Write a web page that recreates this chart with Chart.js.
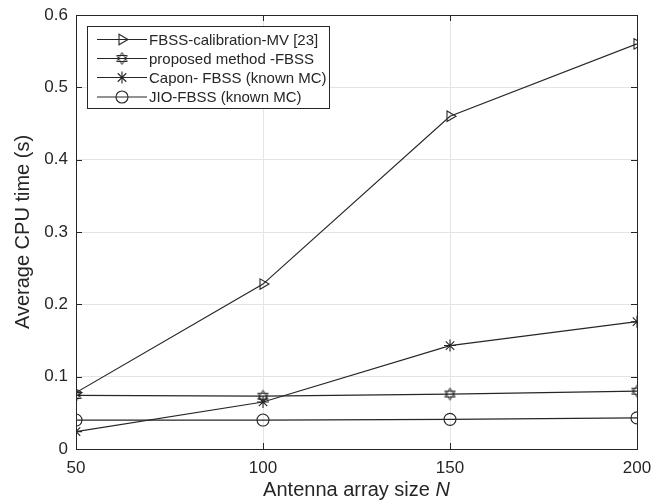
<!DOCTYPE html>
<html>
<head>
<meta charset="utf-8">
<script src="https://cdn.jsdelivr.net/npm/chart.js@4.4.1/dist/chart.umd.min.js"></script>
<style>
  html, body { margin: 0; padding: 0; background: #fff; }
  #wrap { width: 652px; height: 502px; }
</style>
</head>
<body>
<div id="wrap"><canvas id="cpu"></canvas></div>
<script>
// array sizes N
const sizes = [50, 100, 150, 200];
// average CPU time (s) per method
const fbssCalib = [0.078, 0.228, 0.460, 0.560];
const proposed = [0.074, 0.073, 0.076, 0.080];
const capon = [0.024, 0.065, 0.143, 0.176];
const jio = [0.040, 0.040, 0.041, 0.043];
const seriesNames = ['FBSS-calibration-MV [23]', 'proposed method -FBSS', 'Capon- FBSS (known MC)', 'JIO-FBSS (known MC)'];
const yTicks = [0, 0.1, 0.2, 0.3, 0.4, 0.5, 0.6];

const INK = '#262626';
const FONT = '"Liberation Sans", Arial, Helvetica, sans-serif';

// hexagram marker (two overlapping triangles), MATLAB 'h'
function makeHexagram(r) {
  const c = document.createElement('canvas');
  const s = Math.ceil(r * 2 + 3);
  c.width = s; c.height = s;
  const g = c.getContext('2d');
  g.strokeStyle = INK;
  g.lineWidth = 1;
  const cx = s / 2, cy = s / 2;
  [-90, 90].forEach(start => {
    g.beginPath();
    for (let k = 0; k < 3; k++) {
      const a = (start + k * 120) * Math.PI / 180;
      const px = cx + r * Math.cos(a), py = cy + r * Math.sin(a);
      if (k === 0) g.moveTo(px, py); else g.lineTo(px, py);
    }
    g.closePath();
    g.stroke();
  });
  return c;
}
const hexagram = makeHexagram(6);

const pts = arr => sizes.map((n, i) => ({ x: n, y: arr[i] }));

function ds(label, arr, style, radius, rotation) {
  return {
    label,
    data: pts(arr),
    borderColor: INK,
    borderWidth: 1.2,
    pointStyle: style,
    pointRadius: radius,
    pointRotation: rotation || 0,
    pointBorderColor: INK,
    pointBorderWidth: 1.1,
    pointBackgroundColor: 'rgba(0,0,0,0)',
    tension: 0
  };
}

// frame, inward ticks, legend and x title
const matlabAxes = {
  id: 'matlabAxes',
  afterDraw(chart) {
    const { ctx, chartArea: a, scales } = chart;
    ctx.save();
    ctx.strokeStyle = INK;
    ctx.lineWidth = 1;
    ctx.strokeRect(Math.round(a.left) + 0.5, Math.round(a.top) + 0.5,
      Math.round(a.right - a.left), Math.round(a.bottom - a.top));
    const tl = 6;
    ctx.beginPath();
    sizes.forEach(n => {
      const x = Math.round(scales.x.getPixelForValue(n)) + 0.5;
      ctx.moveTo(x, a.bottom); ctx.lineTo(x, a.bottom - tl);
      ctx.moveTo(x, a.top); ctx.lineTo(x, a.top + tl);
    });
    yTicks.forEach(v => {
      const y = Math.round(scales.y.getPixelForValue(v)) + 0.5;
      ctx.moveTo(a.left, y); ctx.lineTo(a.left + tl, y);
      ctx.moveTo(a.right, y); ctx.lineTo(a.right - tl, y);
    });
    ctx.stroke();

    // x axis title with italic N
    ctx.fillStyle = INK;
    ctx.textBaseline = 'middle';
    ctx.textAlign = 'left';
    const t1 = 'Antenna array size ', t2 = 'N';
    ctx.font = '20px ' + FONT;
    const w1 = ctx.measureText(t1).width;
    ctx.font = 'italic 20px ' + FONT;
    const w2 = ctx.measureText(t2).width;
    const cx = (a.left + a.right) / 2;
    const x0 = cx - (w1 + w2) / 2;
    ctx.font = '20px ' + FONT;
    ctx.fillText(t1, x0, 490);
    ctx.font = 'italic 20px ' + FONT;
    ctx.fillText(t2, x0 + w1, 490);

    // legend
    const bx = 87.5, by = 26.5, bw = 242, bh = 82;
    ctx.fillStyle = '#fff';
    ctx.fillRect(bx, by, bw, bh);
    ctx.strokeStyle = INK;
    ctx.strokeRect(bx, by, bw, bh);
    const rows = [39.5, 58.5, 77.5, 97];
    ctx.font = '15px ' + FONT;
    rows.forEach((ry, i) => {
      ctx.strokeStyle = INK;
      ctx.lineWidth = 1.2;
      ctx.beginPath();
      ctx.moveTo(97, ry); ctx.lineTo(147, ry);
      ctx.stroke();
      const el = chart.getDatasetMeta(i).data[0];
      if (el && Chart.helpers && Chart.helpers.drawPoint) {
        ctx.fillStyle = 'rgba(0,0,0,0)';
        ctx.lineWidth = 1.1;
        Chart.helpers.drawPoint(ctx, el.options, 122, ry);
      }
      ctx.fillStyle = INK;
      ctx.fillText(seriesNames[i], 149, ry + 1);
    });
    ctx.restore();
  }
};

new Chart(document.getElementById('cpu'), {
  type: 'line',
  data: {
    datasets: [
      ds(seriesNames[0], fbssCalib, 'triangle', 6, 90),
      ds(seriesNames[1], proposed, hexagram, 6),
      ds(seriesNames[2], capon, 'star', 6),
      ds(seriesNames[3], jio, 'circle', 6)
    ]
  },
  options: {
    responsive: true,
    maintainAspectRatio: false,
    animation: false,
    layout: { padding: { left: 0, right: 15, top: 15, bottom: 0 } },
    plugins: { legend: { display: false }, tooltip: { enabled: false } },
    scales: {
      x: {
        type: 'linear',
        min: 50, max: 200,
        afterFit: s => { s.height = 53; s.paddingLeft = 0; s.paddingRight = 0; },
        afterBuildTicks: s => { s.ticks = sizes.map(v => ({ value: v })); },
        ticks: { color: INK, font: { family: FONT, size: 17 }, padding: 9, maxRotation: 0 },
        grid: { color: '#e4e4e4', drawTicks: false },
        border: { color: INK },
        title: { display: false }
      },
      y: {
        type: 'linear',
        min: 0, max: 0.6,
        afterFit: s => { s.width = 76; s.paddingTop = 0; s.paddingBottom = 0; },
        afterBuildTicks: s => { s.ticks = yTicks.map(v => ({ value: v })); },
        ticks: {
          color: INK, font: { family: FONT, size: 17 }, padding: 8,
          callback: v => v === 0 ? '0' : Number(v).toFixed(1)
        },
        grid: { color: '#e4e4e4', drawTicks: false },
        border: { color: INK },
        title: {
          display: true, text: 'Average CPU time (s)', color: INK,
          font: { family: FONT, size: 20 }, padding: { top: 11, bottom: 0 }
        }
      }
    }
  },
  plugins: [matlabAxes]
});
</script>
</body>
</html>
